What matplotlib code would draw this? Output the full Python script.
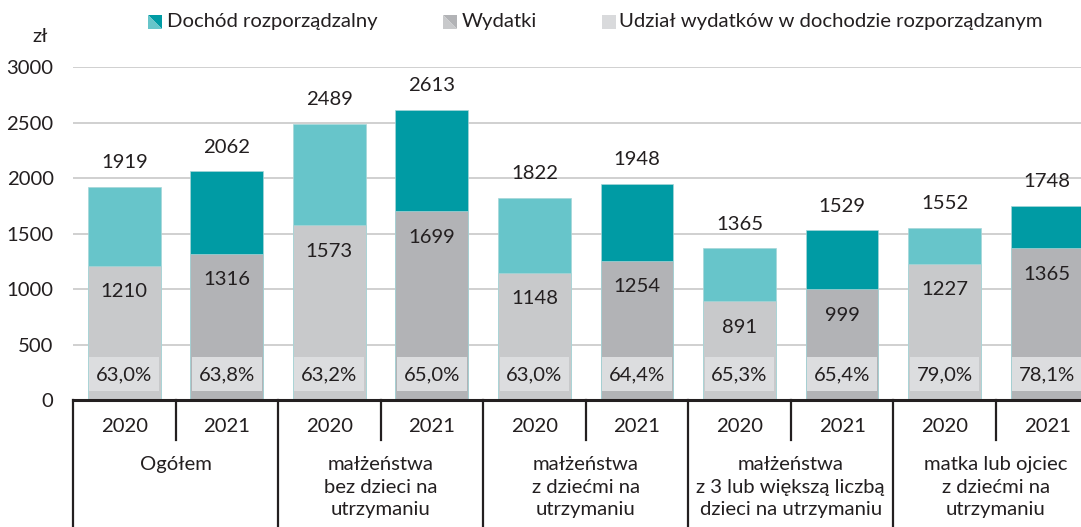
import matplotlib
matplotlib.use("Agg")
import matplotlib.pyplot as plt
from matplotlib.patches import Rectangle, Polygon
from matplotlib.lines import Line2D
from matplotlib.transforms import blended_transform_factory

# ---- data ----
groups = ["Ogółem",
          "małżeństwa\nbez dzieci na\nutrzymaniu",
          "małżeństwa\nz dziećmi na\nutrzymaniu",
          "małżeństwa\nz 3 lub większą liczbą\ndzieci na utrzymaniu",
          "matka lub ojciec\nz dziećmi na\nutrzymaniu"]
years = ["2020", "2021"]
income = [1919, 2062, 2489, 2613, 1822, 1948, 1365, 1529, 1552, 1748]
expenses = [1210, 1316, 1573, 1699, 1148, 1254, 891, 999, 1227, 1365]
share = ["63,0%", "63,8%", "63,2%", "65,0%", "63,0%", "64,4%", "65,3%", "65,4%", "79,0%", "78,1%"]
yticks = [0, 500, 1000, 1500, 2000, 2500, 3000]
legend_labels = ["Dochód rozporządzalny", "Wydatki", "Udział wydatków w dochodzie rozporządzanym"]

# ---- style ----
FONT = "Lato"
FS = 14.6
TXT = "#231f20"
teal = {"2020": "#67c5ca", "2021": "#009ba4"}
gray = {"2020": "#c8c9cb", "2021": "#b2b3b6"}
boxc = "#dcdddf"
plt.rcParams["font.family"] = [FONT, "DejaVu Sans"]

W, H = 1081, 527
fig = plt.figure(figsize=(W / 100, H / 100), dpi=100)
def fx(px): return px / W
def fy(py): return 1 - py / H

ax = fig.add_axes([fx(73), fy(400), fx(1081) - fx(73), fy(67) - fy(400)])
ax.set_ylim(0, 3000)
ax.set_xlim(-0.5, 9.33)

n = len(income)
xs = list(range(n))
yr = [years[i % 2] for i in range(n)]
bw = 0.71
ax.bar(xs, income, width=bw, color=[teal[y] for y in yr], zorder=2,
       edgecolor="#a6d6d8", linewidth=0.5)
ax.bar(xs, expenses, width=bw, color=[gray[y] for y in yr], zorder=3,
       edgecolor="#a6d6d8", linewidth=0.5)

for x, inc, exp, s in zip(xs, income, expenses, share):
    ax.annotate(str(inc), (x, inc), xytext=(0, 24), textcoords="offset pixels",
                ha="center", va="center", fontsize=FS, color=TXT, zorder=5)
    ax.annotate(str(exp), (x, exp), xytext=(0, -26), textcoords="offset pixels",
                ha="center", va="center", fontsize=FS, color=TXT, zorder=5)
    ax.add_patch(Rectangle((x - bw / 2 + 0.015, 81), bw - 0.03, 306,
                           facecolor=boxc, edgecolor="none", zorder=4))
    ax.text(x, 230, s, ha="center", va="center", fontsize=FS, color=TXT, zorder=5)

ax.set_yticks(yticks)
ax.set_yticklabels([str(t) for t in yticks], fontsize=FS, color=TXT)
ax.tick_params(axis="y", length=0, pad=14)
ax.tick_params(axis="x", length=0, labelbottom=False)
ax.grid(axis="y", color="#c8c8c8", linewidth=1.2, zorder=0)
ax.set_axisbelow(True)
for sp in ["left", "right", "top"]:
    ax.spines[sp].set_visible(False)
ax.spines["bottom"].set_color(TXT)
ax.spines["bottom"].set_linewidth(2.2)
ax.spines["bottom"].set_zorder(6)

# ---- category table below axis ----
tr = blended_transform_factory(ax.transData, fig.transFigure)
for k in range(n + 1):
    xb = k - 0.5
    y_end = fy(527) if k % 2 == 0 else fy(440)
    ax.add_line(Line2D([xb, xb], [fy(400), y_end], transform=tr, color=TXT,
                       linewidth=1.6, clip_on=False))
for x in xs:
    ax.text(x, fy(427), yr[x], transform=tr, ha="center", va="center",
            fontsize=FS, color=TXT)
for g, name in enumerate(groups):
    ax.text(2 * g + 0.5, fy(456), name, transform=tr, ha="center", va="top",
            fontsize=FS, color=TXT, linespacing=1.4)

# ---- y unit ----
fig.text(fx(40), fy(37), "zł", ha="center", va="center", fontsize=FS, color=TXT)

# ---- legend ----
def split_square(x0, y0, s, dark, light):
    # x0,y0 top-left in px
    p1 = Polygon([(fx(x0), fy(y0)), (fx(x0 + s), fy(y0)), (fx(x0 + s), fy(y0 + s))],
                 closed=True, transform=fig.transFigure, facecolor=dark, edgecolor="none")
    p2 = Polygon([(fx(x0), fy(y0)), (fx(x0), fy(y0 + s)), (fx(x0 + s), fy(y0 + s))],
                 closed=True, transform=fig.transFigure, facecolor=light, edgecolor="none")
    fig.add_artist(p1)
    fig.add_artist(p2)

split_square(148, 15, 14, teal["2021"], teal["2020"])
fig.text(fx(167), fy(22), legend_labels[0], ha="left", va="center", fontsize=FS, color=TXT)
split_square(443, 15, 14, gray["2021"], gray["2020"])
fig.text(fx(462), fy(22), legend_labels[1], ha="left", va="center", fontsize=FS, color=TXT)
fig.add_artist(Rectangle((fx(602), fy(29)), fx(14), fy(15) - fy(29),
                         transform=fig.transFigure, facecolor="#d9dadc", edgecolor="none"))
fig.text(fx(619), fy(22), legend_labels[2], ha="left", va="center", fontsize=FS, color=TXT)

fig.savefig("out.png", dpi=100)
